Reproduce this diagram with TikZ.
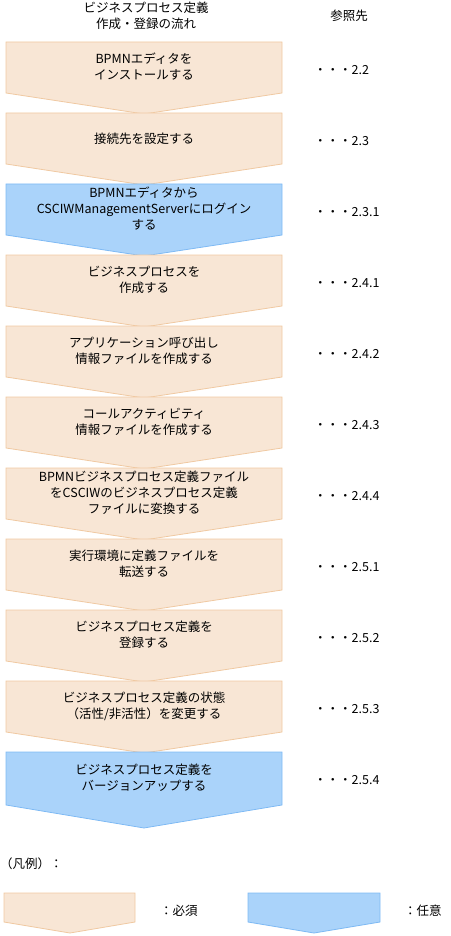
\documentclass[tikz,border=0pt]{standalone}
\usepackage{fontspec}
\newfontfamily\jpfont{Noto Sans CJK JP}

\definecolor{reqfill}{HTML}{F8E6D5}
\definecolor{reqline}{HTML}{F0C9A2}
\definecolor{optfill}{HTML}{AAD3FA}
\definecolor{optline}{HTML}{7FBAF4}

\tikzset{
    reqbox/.style={fill=reqfill, draw=reqline, line width=0.8pt, line join=miter},
    optbox/.style={fill=optfill, draw=optline, line width=0.8pt, line join=miter},
    steptext/.style={align=center, inner sep=0pt, font=\jpfont\fontsize{12.5}{16}\selectfont},
    reftext/.style={anchor=west, inner sep=0pt, font=\jpfont\fontsize{12.5}{16}\selectfont},
}

\begin{document}
\begin{tikzpicture}[x=1pt, y=-1pt]

\useasboundingbox (0,0) rectangle (450,936);

% header
\node[steptext] (head) at (146, 16) {ビジネスプロセス定義\\作成・登録の流れ};
\node[steptext] (refhead) at (349, 16) {参照先};

% step shapes
\foreach \k/\s in {0/reqbox, 1/reqbox, 2/optbox, 3/reqbox, 4/reqbox, 5/reqbox, 6/reqbox, 7/reqbox, 8/reqbox, 9/reqbox} {
    \pgfmathsetmacro{\t}{42+71*\k}
    \draw[\s] (6,\t) -- (282,\t) -- (282,\t+51) -- (144,\t+72) -- (6,\t+51) -- cycle;
}
\draw[optbox] (6,752) -- (282,752) -- (282,805) -- (144,828) -- (6,805) -- cycle;

% step labels
\node[steptext] (s1) at (144, 67) {BPMNエディタを\\インストールする};
\node[steptext] (s2) at (144, 139) {接続先を設定する};
\node[steptext] (s3) at (144, 209) {BPMNエディタから\\CSCIWManagementServerにログイン\\する};
\node[steptext] (s4) at (144, 280) {ビジネスプロセスを\\作成する};
\node[steptext] (s5) at (144, 351) {アプリケーション呼び出し\\情報ファイルを作成する};
\node[steptext] (s6) at (144, 422) {コールアクティビティ\\情報ファイルを作成する};
\node[steptext] (s7) at (144, 493) {BPMNビジネスプロセス定義ファイル\\をCSCIWのビジネスプロセス定義\\ファイルに変換する};
\node[steptext] (s8) at (144, 564) {実行環境に定義ファイルを\\転送する};
\node[steptext] (s9) at (144, 635) {ビジネスプロセス定義を\\登録する};
\node[steptext] (s10) at (144, 706) {ビジネスプロセス定義の状態\\（活性/非活性）を変更する};
\node[steptext] (s11) at (144, 778) {ビジネスプロセス定義を\\バージョンアップする};

% reference labels
\node[reftext] (r1) at (314, 70) {・・・2.2};
\node[reftext] (r2) at (314, 141) {・・・2.3};
\node[reftext] (r3) at (314, 212) {・・・2.3.1};
\node[reftext] (r4) at (314, 283) {・・・2.4.1};
\node[reftext] (r5) at (314, 354) {・・・2.4.2};
\node[reftext] (r6) at (314, 425) {・・・2.4.3};
\node[reftext] (r7) at (314, 496) {・・・2.4.4};
\node[reftext] (r8) at (314, 567) {・・・2.5.1};
\node[reftext] (r9) at (314, 638) {・・・2.5.2};
\node[reftext] (r10) at (314, 709) {・・・2.5.3};
\node[reftext] (r11) at (314, 780) {・・・2.5.4};

% legend
\node[reftext] (legend) at (0, 864) {（凡例）：};
\draw[reqbox] (4,893) -- (135,893) -- (135,922) -- (70,933) -- (4,922) -- cycle;
\draw[optbox] (248,893) -- (380,893) -- (380,922) -- (314,933) -- (248,922) -- cycle;
\node[reftext] (legreq) at (160, 911) {：必須};
\node[reftext] (legopt) at (404, 911) {：任意};

\end{tikzpicture}
\end{document}
